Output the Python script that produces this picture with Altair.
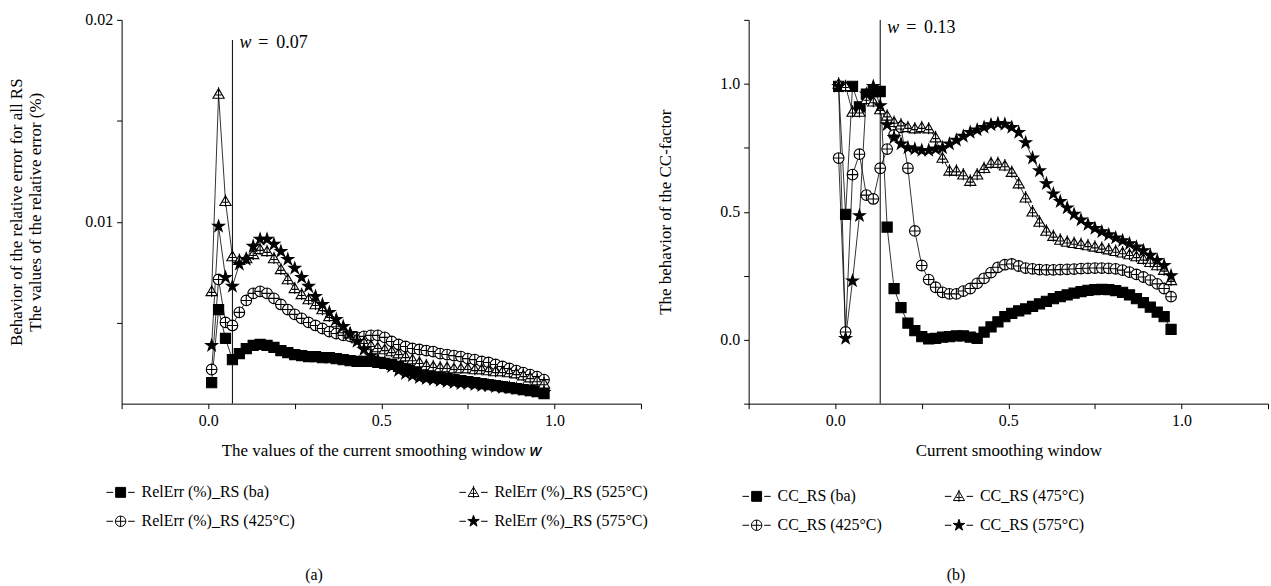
import altair as alt
import pandas as pd

# ---------------- data ----------------
w_vals = [0.01, 0.03, 0.05, 0.07, 0.09, 0.11, 0.13, 0.15, 0.17, 0.19,
          0.21, 0.23, 0.25, 0.27, 0.29, 0.31, 0.33, 0.35, 0.37, 0.39,
          0.41, 0.43, 0.45, 0.47, 0.49, 0.51, 0.53, 0.55, 0.57, 0.59,
          0.61, 0.63, 0.65, 0.67, 0.69, 0.71, 0.73, 0.75, 0.77, 0.79,
          0.81, 0.83, 0.85, 0.87, 0.89, 0.91, 0.93, 0.95, 0.97]

# panel (a): relative error
a_ba = [0.00204, 0.00566, 0.00423, 0.00318, 0.00348, 0.00373, 0.00388, 0.00393, 0.00388, 0.00378,
        0.00363, 0.00353, 0.00343, 0.00338, 0.00333, 0.00333, 0.00328, 0.00328, 0.00323, 0.00318,
        0.00313, 0.00309, 0.00309, 0.00309, 0.00304, 0.00299, 0.00294, 0.00284, 0.00274, 0.00264,
        0.00254, 0.00244, 0.00234, 0.00229, 0.00224, 0.00219, 0.00214, 0.00209, 0.00204, 0.00199,
        0.00194, 0.00189, 0.00184, 0.00179, 0.00174, 0.00170, 0.00165, 0.00160, 0.00150]
a_425 = [0.00269, 0.00715, 0.00502, 0.00487, 0.00552, 0.00611, 0.00646, 0.00656, 0.00646, 0.00621,
         0.00591, 0.00566, 0.00542, 0.00522, 0.00502, 0.00487, 0.00472, 0.00457, 0.00447, 0.00438,
         0.00433, 0.00428, 0.00433, 0.00438, 0.00438, 0.00428, 0.00408, 0.00393, 0.00383, 0.00373,
         0.00368, 0.00363, 0.00358, 0.00348, 0.00343, 0.00338, 0.00333, 0.00323, 0.00318, 0.00309,
         0.00304, 0.00294, 0.00284, 0.00274, 0.00264, 0.00254, 0.00244, 0.00234, 0.00219]
a_525 = [0.00656, 0.01633, 0.01102, 0.00829, 0.00810, 0.00819, 0.00839, 0.00864, 0.00854, 0.00819,
         0.00765, 0.00715, 0.00671, 0.00641, 0.00616, 0.00591, 0.00566, 0.00532, 0.00502, 0.00472,
         0.00447, 0.00423, 0.00403, 0.00388, 0.00378, 0.00368, 0.00358, 0.00348, 0.00333, 0.00318,
         0.00304, 0.00289, 0.00284, 0.00279, 0.00279, 0.00274, 0.00274, 0.00274, 0.00269, 0.00269,
         0.00264, 0.00259, 0.00259, 0.00254, 0.00249, 0.00239, 0.00229, 0.00214, 0.00199]
a_575 = [0.00388, 0.00978, 0.00725, 0.00681, 0.00790, 0.00814, 0.00879, 0.00914, 0.00914, 0.00889,
         0.00854, 0.00814, 0.00770, 0.00725, 0.00681, 0.00631, 0.00591, 0.00552, 0.00517, 0.00482,
         0.00447, 0.00408, 0.00368, 0.00338, 0.00318, 0.00304, 0.00284, 0.00264, 0.00249, 0.00239,
         0.00229, 0.00224, 0.00219, 0.00214, 0.00209, 0.00204, 0.00199, 0.00199, 0.00194, 0.00189,
         0.00189, 0.00184, 0.00179, 0.00179, 0.00174, 0.00170, 0.00165, 0.00160, 0.00155]

# panel (b): CC factor
b_ba = [0.99, 0.49, 0.99, 0.91, 0.96, 0.97, 0.97, 0.44, 0.20, 0.125,
        0.065, 0.035, 0.012, 0.003, 0.005, 0.010, 0.012, 0.015, 0.015, 0.010,
        0.005, 0.030, 0.050, 0.070, 0.090, 0.103, 0.113, 0.120, 0.130, 0.140,
        0.150, 0.160, 0.168, 0.175, 0.182, 0.188, 0.193, 0.196, 0.197, 0.196,
        0.192, 0.185, 0.175, 0.160, 0.145, 0.127, 0.108, 0.090, 0.040]
b_425 = [0.71, 0.03, 0.645, 0.725, 0.565, 0.55, 0.67, 0.745, 0.80, 0.83,
         0.67, 0.425, 0.29, 0.235, 0.205, 0.185, 0.179, 0.179, 0.19, 0.20,
         0.22, 0.24, 0.262, 0.283, 0.293, 0.296, 0.288, 0.28, 0.277, 0.274,
         0.273, 0.273, 0.274, 0.275, 0.276, 0.278, 0.279, 0.28, 0.28, 0.279,
         0.277, 0.272, 0.264, 0.255, 0.245, 0.233, 0.218, 0.20, 0.168]
b_475 = [1.00, 0.99, 0.89, 0.89, 0.94, 0.93, 0.90, 0.875, 0.85, 0.84,
         0.83, 0.825, 0.83, 0.825, 0.79, 0.71, 0.66, 0.66, 0.645, 0.62,
         0.645, 0.67, 0.69, 0.69, 0.68, 0.655, 0.61, 0.555, 0.50, 0.46,
         0.425, 0.405, 0.39, 0.382, 0.377, 0.373, 0.368, 0.363, 0.358, 0.352,
         0.346, 0.34, 0.333, 0.325, 0.315, 0.303, 0.29, 0.272, 0.232]
b_575 = [0.99, 0.005, 0.23, 0.485, 0.96, 0.99, 0.915, 0.84, 0.79, 0.765,
         0.75, 0.745, 0.74, 0.74, 0.745, 0.75, 0.765, 0.78, 0.795, 0.81,
         0.82, 0.83, 0.84, 0.845, 0.842, 0.83, 0.81, 0.77, 0.71, 0.66,
         0.61, 0.57, 0.54, 0.515, 0.49, 0.468, 0.45, 0.435, 0.422, 0.41,
         0.398, 0.387, 0.375, 0.362, 0.348, 0.33, 0.31, 0.29, 0.25]

# legend order: column 1 = first two, column 2 = last two
names_a = ["RelErr (%)_RS (ba)", "RelErr (%)_RS (425°C)", "RelErr (%)_RS (525°C)", "RelErr (%)_RS (575°C)"]
names_b = ["CC_RS (ba)", "CC_RS (425°C)", "CC_RS (475°C)", "CC_RS (575°C)"]

window_a = [0.07]
window_b = [0.13]

# ---------------- styling ----------------
FONT = "Liberation Serif"
SQUARE = "M-0.95,-0.95L0.95,-0.95L0.95,0.95L-0.95,0.95Z"
CIRCLE_PLUS = "M-1,0A1,1,0,1,1,1,0A1,1,0,1,1,-1,0Z M-1,0L1,0 M0,-1L0,1"
TRI_PLUS = "M0,-1L1.05,0.8L-1.05,0.8Z M0,-1.25L0,1.05 M-0.55,0.2L0.55,0.2"
STAR = ("M0,-1.15L0.258,-0.355L1.094,-0.355L0.418,0.136L0.676,0.93L0,0.44"
        "L-0.676,0.93L-0.418,0.136L-1.094,-0.355L-0.258,-0.355Z")
DASHES = " M-2.7,0L-1.45,0 M1.45,0L2.7,0"
shapes = [SQUARE, CIRCLE_PLUS, TRI_PLUS, STAR]
legend_shapes = [s + DASHES for s in shapes]
fills = ["black", "white", "white", "black"]


def long_df(names, series):
    rows = []
    for name, vals in zip(names, series):
        for x, v in zip(w_vals, vals):
            rows.append({"w": x, "v": v, "series": name})
    return pd.DataFrame(rows)


def panel(names, series, ydom, yvals, ylabel_expr, ytitle, ytitle_pad, xtitle, win, win_top, win_bot,
          ann_y, legx, legy, colpad, caption, cap_x):
    df = long_df(names, series)
    xs = alt.Scale(domain=[-0.25, 1.25], nice=False, zero=False)
    ys = alt.Scale(domain=ydom, nice=False, zero=False)
    xaxis = alt.Axis(values=[-0.25, 0, 0.25, 0.5, 0.75, 1.0, 1.25],
                     labelExpr="(datum.value == 0 || datum.value == 0.5 || datum.value == 1) ? format(datum.value, '.1f') : ''",
                     title=xtitle, grid=False)
    yaxis = alt.Axis(values=yvals, labelExpr=ylabel_expr, title=ytitle, grid=False,
                     titlePadding=ytitle_pad)

    base = alt.Chart(df)
    lines = base.mark_line(color="black", strokeWidth=0.8).encode(
        x=alt.X("w:Q", scale=xs, axis=xaxis),
        y=alt.Y("v:Q", scale=ys, axis=yaxis),
        detail="series:N",
        order="w:Q",
    )
    pts = base.mark_point(filled=False, size=115, strokeWidth=1.1, opacity=1).encode(
        x=alt.X("w:Q", scale=xs),
        y=alt.Y("v:Q", scale=ys),
        shape=alt.Shape("series:N", scale=alt.Scale(domain=names, range=shapes), legend=None),
        fill=alt.Fill("series:N", scale=alt.Scale(domain=names, range=fills), legend=None),
        stroke=alt.Stroke("series:N", scale=alt.Scale(domain=names, range=["black"] * 4), legend=None),
    )
    legend = alt.Legend(title=None, orient="none", legendX=legx, legendY=legy, columns=2,
                        direction="vertical",
                        columnPadding=colpad, rowPadding=12, labelFont=FONT, labelFontSize=16,
                        labelOffset=13, symbolSize=110, symbolStrokeColor="black",
                        symbolStrokeWidth=1, labelColor="black")
    # legend-only layer (no rows drawn): carries the "-marker-" legend glyphs
    key = base.transform_filter("false").mark_point(filled=False, strokeWidth=1, opacity=1).encode(
        x=alt.X("w:Q", scale=xs),
        y=alt.Y("v:Q", scale=ys),
        shape=alt.Shape("series:N", scale=alt.Scale(domain=names, range=legend_shapes), legend=legend),
        fill=alt.Fill("series:N", scale=alt.Scale(domain=names, range=fills), legend=legend),
        stroke=alt.Stroke("series:N", scale=alt.Scale(domain=names, range=["black"] * 4), legend=legend),
    )
    wdf = pd.DataFrame({"x": win, "top": [win_top], "bot": [win_bot], "ann": [ann_y]})
    rule = alt.Chart(wdf).mark_rule(color="black", strokeWidth=1).encode(
        x=alt.X("x:Q", scale=xs), y=alt.Y("top:Q", scale=ys), y2="bot:Q")
    ann_w = alt.Chart(wdf).mark_text(text="w", font=FONT, fontSize=18, fontStyle="italic",
                                     align="left", baseline="middle", dx=7).encode(
        x=alt.X("x:Q", scale=xs), y=alt.Y("ann:Q", scale=ys))
    ann_eq = alt.Chart(wdf).mark_text(text="=", font=FONT, fontSize=18, align="left",
                                      baseline="middle", dx=26).encode(
        x=alt.X("x:Q", scale=xs), y=alt.Y("ann:Q", scale=ys))
    ann_v = alt.Chart(wdf).mark_text(font=FONT, fontSize=18, align="left",
                                     baseline="middle", dx=44).encode(
        x=alt.X("x:Q", scale=xs), y=alt.Y("ann:Q", scale=ys),
        text=alt.Text("x:Q", format=".2f"))
    cap = alt.Chart(wdf).mark_text(text=caption, font=FONT, fontSize=16, align="center",
                                   baseline="middle").encode(
        x=alt.value(cap_x), y=alt.value(557))
    return alt.layer(lines, pts, key, rule, ann_w, ann_eq, ann_v, cap).resolve_scale(
        shape="independent", fill="independent", stroke="independent"
    ).properties(width=521, height=385)


left = panel(names_a, [a_ba, a_425, a_525, a_575], [0.001, 0.02], [0.005, 0.01, 0.015, 0.02],
             "(datum.value == 0.01 || datum.value == 0.02) ? format(datum.value, '.2f') : ''",
             ["Behavior of the relative error for all RS", "The values of the relative error (%)"], 40,
             "The values of the current smoothing window 𝑤",
             window_a, 0.019, 0.001, 0.01886, -9, 466, 162, "(a)", 193)
right = panel(names_b, [b_ba, b_425, b_475, b_575], [-0.25, 1.25], [-0.25, 0, 0.25, 0.5, 0.75, 1.0, 1.25],
              "(datum.value == 0 || datum.value == 0.5 || datum.value == 1) ? format(datum.value, '.1f') : ''",
              "The behavior of the CC-factor", 45,
              "Current smoothing window",
              window_b, 1.25, -0.25, 1.22, 0, 470, 60, "(b)", 208)

chart = alt.hconcat(left, right, spacing=9).resolve_scale(
    shape="independent", fill="independent", stroke="independent", x="independent", y="independent"
).configure_view(stroke=None).configure_axis(
    labelFont=FONT, labelFontSize=16, titleFont=FONT, titleFontSize=17, titleFontWeight="normal",
    labelColor="black", titleColor="black", domainColor="black", tickColor="black",
    tickSize=5, labelPadding=4, titlePadding=14, domainWidth=1
).properties(
    padding={"left": 8, "top": 11, "right": 2, "bottom": 2}
)

chart.save("out.html", embed_options={"renderer": "svg", "actions": False})
